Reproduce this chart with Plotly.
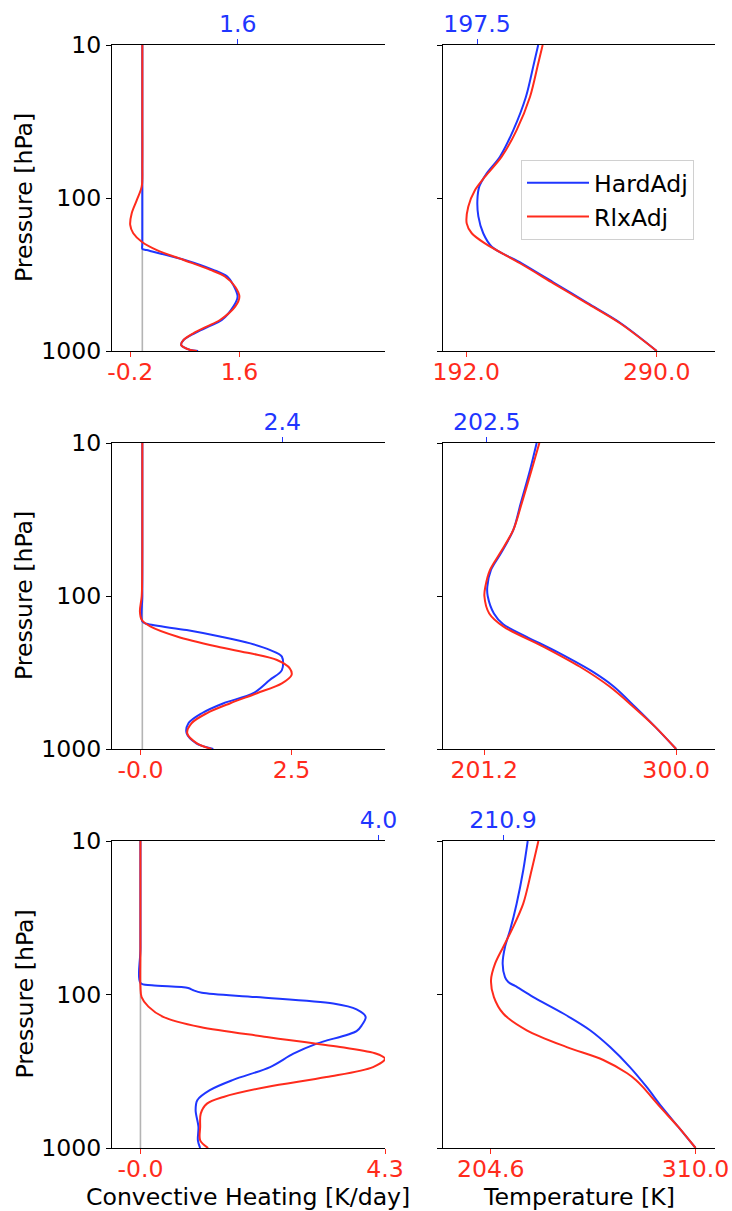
import plotly.graph_objects as go

# ---------------- data ----------------
# Row 1 : convective heating [K/day]
p_h1_hard = [10, 30, 60, 84, 100, 150, 200, 215, 219, 254, 295, 326, 370, 442, 513, 627, 693, 766, 847, 912, 985, 1000]
h1_hard   = [0.0, 0.0, 0.0, 0.0, 0.0, 0.0, 0.0, 0.0, 0.07, 0.70, 1.17, 1.40, 1.50, 1.57, 1.50, 1.31, 1.09, 0.86, 0.68, 0.64, 0.79, 0.92]
p_h1_rlx  = [10, 30, 60, 84, 103, 126, 150, 170, 193, 219, 254, 295, 326, 380, 442, 513, 627, 693, 766, 847, 912, 985, 1000]
h1_rlx    = [0.0, 0.0, 0.0, -0.01, -0.09, -0.175, -0.20, -0.15, -0.01, 0.24, 0.68, 1.12, 1.36, 1.53, 1.60, 1.53, 1.28, 1.06, 0.84, 0.68, 0.64, 0.79, 0.90]
# Row 1 : temperature [K]
p_t1_hard = [10, 13.2, 21.8, 36, 53.7, 69, 84, 103, 132, 170, 208, 267, 361, 487, 659, 1000]
t1_hard   = [229.0, 226.8, 222.7, 216.2, 209.3, 202.5, 198.7, 197.7, 198.2, 200.7, 205.1, 220.5, 237.6, 254.5, 271.5, 290.0]
p_t1_rlx  = [10, 13.2, 21.8, 36, 53.7, 72.6, 88.6, 114, 146.5, 170, 198, 267, 361, 487, 659, 1000]
t1_rlx    = [231.3, 229.0, 224.8, 217.9, 210.2, 201.6, 196.5, 193.0, 192.2, 194.8, 201.6, 219.6, 236.8, 253.9, 271.1, 290.0]

# Row 2 : convective heating
p_h2_hard = [10, 50, 100, 147, 152, 167, 184, 204, 225, 249, 305, 354, 432, 502, 584, 679, 789, 918, 1000]
h2_hard   = [0.0, 0.0, 0.0, 0.0, 0.07, 0.73, 1.28, 1.78, 2.10, 2.30, 2.30, 2.10, 1.83, 1.34, 0.98, 0.76, 0.73, 0.89, 1.17]
p_h2_rlx  = [10, 50, 100, 126, 143, 158, 184, 214, 237, 262, 297, 328, 372, 432, 502, 584, 679, 789, 918, 1000]
h2_rlx    = [0.0, 0.0, -0.01, -0.04, -0.01, 0.13, 0.57, 1.23, 1.78, 2.22, 2.43, 2.46, 2.30, 1.89, 1.45, 1.06, 0.81, 0.74, 0.90, 1.14]
# Row 2 : temperature
p_t2_hard = [10, 15, 24.8, 37, 52.6, 67.6, 87, 100, 130, 153, 184, 234, 316, 392, 529, 714, 1000]
t2_hard   = [228.2, 224.8, 220.0, 216.2, 209.8, 204.7, 202.8, 203.0, 206.2, 211.0, 222.8, 239.2, 257.6, 268.0, 278.8, 289.1, 300.0]
p_t2_rlx  = [10, 15, 24.8, 37, 52.6, 67.6, 87, 100, 130, 158, 214, 290, 392, 529, 714, 1000]
t2_rlx    = [229.6, 225.6, 220.5, 216.2, 209.3, 204.2, 201.8, 201.3, 203.8, 211.0, 231.6, 250.5, 265.9, 277.9, 289.1, 300.0]

# Row 3 : convective heating
p_h3_hard = [10, 50, 84, 87, 90.7, 93.8, 97.3, 104, 114.6, 125, 140, 159, 173, 209, 243, 297, 360, 420, 488, 567, 729, 891, 1000]
h3_hard   = [0.0, 0.0, 0.0, 0.20, 0.84, 0.93, 1.08, 2.04, 3.39, 3.80, 3.96, 3.89, 3.80, 3.10, 2.69, 2.28, 1.63, 1.22, 1.00, 0.97, 1.02, 1.01, 1.05]
p_h3_rlx  = [10, 50, 89, 104, 120, 140, 163, 189, 220, 243, 262, 297, 345, 400, 465, 514, 597, 729, 891, 1000]
h3_rlx    = [0.0, 0.0, 0.0, 0.02, 0.14, 0.40, 1.05, 2.22, 3.51, 4.15, 4.30, 4.09, 3.27, 2.22, 1.46, 1.17, 1.06, 1.05, 1.05, 1.19]
# Row 3 : temperature
p_t3_hard = [10, 15.5, 25.6, 38.2, 49, 63, 77, 83, 88, 104, 133, 171, 220, 297, 400, 540, 729, 1000]
t3_hard   = [223.6, 221.3, 217.9, 214.5, 211.9, 210.7, 211.9, 213.6, 217.1, 226.5, 241.9, 255.7, 266.0, 276.2, 284.8, 292.6, 301.1, 310.0]
p_t3_rlx  = [10, 15.5, 25.6, 38.2, 49, 63, 80.7, 104, 133, 171, 220, 267, 326, 362, 400, 540, 729, 1000]
t3_rlx    = [229.1, 225.6, 221.3, 215.3, 211.0, 206.8, 204.7, 206.2, 211.0, 223.1, 243.7, 262.5, 274.8, 279.4, 282.8, 291.7, 301.1, 310.0]

# tick values / labels (bottom = RlxAdj extremes, top = HardAdj extreme)
bot_vals = [[-0.2, 1.6], [192.0, 290.0], [-0.03, 2.46], [201.2, 300.0], [-0.0, 4.3], [204.6, 310.0]]
bot_text = [["-0.2", "1.6"], ["192.0", "290.0"], ["-0.0", "2.5"], ["201.2", "300.0"], ["-0.0", "4.3"], ["204.6", "310.0"]]
top_vals = [[1.6], [197.5], [2.4], [202.5], [4.0], [210.9]]
top_text = [["1.6"], ["197.5"], ["2.4"], ["202.5"], ["4.0"], ["210.9"]]
p_ticks = [10, 100, 1000]
p_tick_text = ["10", "100", "1000"]

series_names = ["HardAdj", "RlxAdj"]

panels = [
    (p_h1_hard, h1_hard, p_h1_rlx, h1_rlx),
    (p_t1_hard, t1_hard, p_t1_rlx, t1_rlx),
    (p_h2_hard, h2_hard, p_h2_rlx, h2_rlx),
    (p_t2_hard, t2_hard, p_t2_rlx, t2_rlx),
    (p_h3_hard, h3_hard, p_h3_rlx, h3_rlx),
    (p_t3_hard, t3_hard, p_t3_rlx, t3_rlx),
]

# ---------------- style / layout ----------------
BLUE = "#1f36ff"
RED = "#ff2b1c"
GREY = "#b4b4b4"
FONT = "DejaVu Sans"
FS = 23.6
W, H = 732, 1211

xdom = [(112 / W, 385 / W), (443 / W, 715 / W)]
ydom = [(1 - 351 / H, 1 - 45 / H), (1 - 749 / H, 1 - 443 / H), (1 - 1148 / H, 1 - 841 / H)]
bot_ranges = [[-0.5, 4.0], [180, 320], [-0.5, 4.0], [180, 320], [-0.5, 4.3], [180, 320]]
top_ranges = [[-0.5, 4.06], [180, 320], [-0.5, 4.15], [180, 320], [-0.5, 4.11], [180, 320]]

fig = go.Figure()
layout = dict(
    width=W, height=H,
    margin=dict(l=0, r=0, t=0, b=0),
    paper_bgcolor="white", plot_bgcolor="white",
    font=dict(family=FONT, size=FS, color="black"),
    showlegend=True,
    legend=dict(x=521 / W, y=1 - 160 / H, xanchor="left", yanchor="top",
                bgcolor="white", bordercolor="#d0d0d0", borderwidth=1,
                font=dict(family=FONT, size=FS, color="black"),
                tracegroupgap=0, itemwidth=62),
)
shapes = []
annotations = []

for k, (ph, vh, pr, vr) in enumerate(panels):
    row, col = divmod(k, 2)
    xb = 2 * k + 1
    xt = 2 * k + 2
    yy = k + 1
    xb_name = "x" if xb == 1 else f"x{xb}"
    yname = "y" if yy == 1 else f"y{yy}"
    xt_name = f"x{xt}"

    smooth = 0.9
    fig.add_trace(go.Scatter(x=vh, y=ph, mode="lines", name=series_names[0],
                             line=dict(color=BLUE, width=2, shape="spline", smoothing=smooth),
                             xaxis=xb_name, yaxis=yname, showlegend=(k == 1)))
    fig.add_trace(go.Scatter(x=vr, y=pr, mode="lines", name=series_names[1],
                             line=dict(color=RED, width=2, shape="spline", smoothing=smooth),
                             xaxis=xb_name, yaxis=yname, showlegend=(k == 1)))
    # transparent copy on the twin (top) axis so that the top axis gets drawn
    fig.add_trace(go.Scatter(x=vh, y=ph, mode="lines", name=series_names[0],
                             line=dict(color="rgba(0,0,0,0)", width=0),
                             hoverinfo="skip", xaxis=xt_name, yaxis=yname, showlegend=False))

    common = dict(showgrid=False, zeroline=False, showline=True, linecolor="black",
                  linewidth=1.1, ticks="outside", ticklen=5, tickwidth=1.1,
                  automargin=False)
    layout[f"xaxis{xb}"] = dict(domain=list(xdom[col]), anchor=yname, range=bot_ranges[k],
                                tickmode="array", tickvals=bot_vals[k], ticktext=bot_text[k],
                                tickfont=dict(color=RED, size=FS, family=FONT),
                                tickcolor=RED, side="bottom", ticklabelstandoff=-5, **common)
    layout[f"xaxis{xt}"] = dict(domain=list(xdom[col]), anchor=yname, overlaying=xb_name,
                                side="top", range=top_ranges[k],
                                tickmode="array", tickvals=top_vals[k], ticktext=top_text[k],
                                tickfont=dict(color=BLUE, size=FS, family=FONT),
                                tickcolor=BLUE, ticklabelstandoff=-2, **common)
    layout[f"yaxis{yy}"] = dict(domain=list(ydom[row]), anchor=xb_name, type="log",
                                range=[3, 1], tickmode="array", tickvals=p_ticks,
                                ticktext=p_tick_text, showticklabels=(col == 0),
                                tickfont=dict(color="black", size=FS, family=FONT),
                                tickcolor="black", **common)

    if col == 0:
        shapes.append(dict(type="line", xref=xb_name, yref=f"{yname} domain",
                           x0=0, x1=0, y0=0, y1=1, layer="below",
                           line=dict(color=GREY, width=1.6)))
        annotations.append(dict(text="Pressure [hPa]", xref="paper", yref="paper",
                                x=24 / W, y=(ydom[row][0] + ydom[row][1]) / 2,
                                textangle=-90, showarrow=False, xanchor="center",
                                yanchor="middle", font=dict(size=FS, family=FONT, color="black")))

annotations.append(dict(text="Convective Heating [K/day]", xref="paper", yref="paper",
                        x=(xdom[0][0] + xdom[0][1]) / 2, y=1 - 1197 / H, showarrow=False,
                        xanchor="center", yanchor="middle",
                        font=dict(size=FS, family=FONT, color="black")))
annotations.append(dict(text="Temperature [K]", xref="paper", yref="paper",
                        x=(xdom[1][0] + xdom[1][1]) / 2, y=1 - 1197 / H, showarrow=False,
                        xanchor="center", yanchor="middle",
                        font=dict(size=FS, family=FONT, color="black")))

layout["shapes"] = shapes
layout["annotations"] = annotations
fig.update_layout(**layout)
fig.write_html("out.html", config={"displayModeBar": False},
               post_script="document.body.style.margin='0px';")
